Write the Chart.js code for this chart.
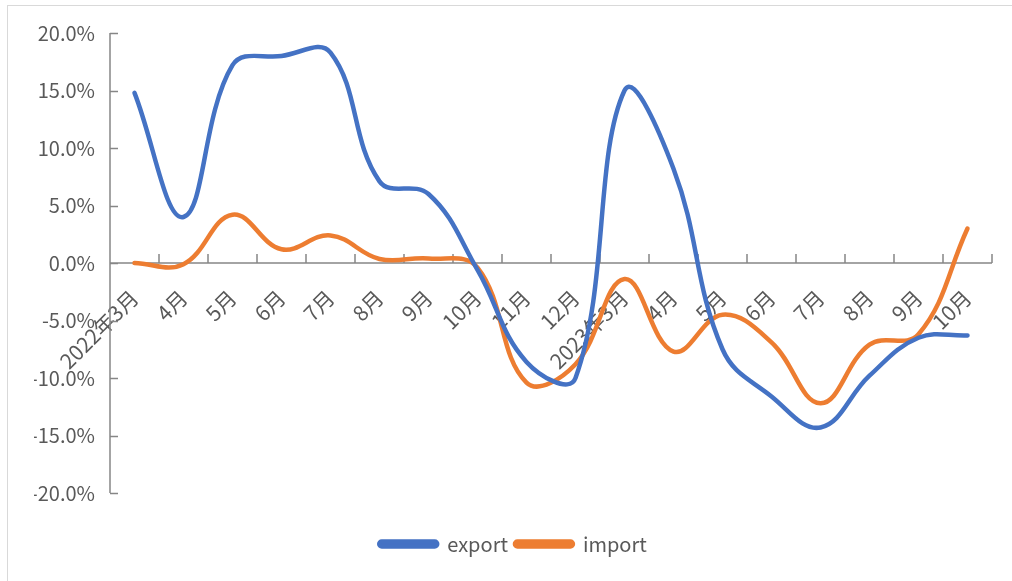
<!DOCTYPE html>
<html>
<head>
<meta charset="utf-8">
<script src="https://cdn.jsdelivr.net/npm/chart.js@4"></script>
<style>
  html, body { margin: 0; padding: 0; background: #fff; }
  #wrap { position: relative; width: 1012px; height: 581px; overflow: hidden; }
  #frame { position: absolute; left: 7px; top: 5px; width: 1100px; height: 700px; border: 1px solid #d9d9d9; }
  canvas { position: absolute; left: 0; top: 0; }
</style>
</head>
<body>
<div id="wrap">
  <div id="frame"></div>
  <canvas id="myChart" width="1012" height="581"></canvas>
</div>
<script>
// 月份
const meses = ['2022年3月','4月','5月','6月','7月','8月','9月','10月','11月','12月',
               '2023年3月','4月','5月','6月','7月','8月','9月','10月'];
// 同比增速 (%)
const exportData = [14.8, 4.0, 17.2, 18.0, 18.3, 7.1, 6.0, -0.6, -8.6, -10.0,
                    15.0, 8.2, -7.5, -11.6, -14.3, -9.8, -6.5, -6.3];
const importData = [0.0, -0.1, 4.2, 1.2, 2.4, 0.35, 0.4, -0.4, -10.4, -8.8,
                    -1.4, -7.7, -4.5, -6.9, -12.2, -7.1, -6.2, 3.0];

const ejeColor = '#868686';
const textoColor = '#595959';
const fuente = '"Noto Sans CJK SC", "Noto Sans", sans-serif';

// marcas de los ejes hacia adentro
const marcas = {
  id: 'marcas',
  beforeDatasetsDraw(chart) {
    const ctx = chart.ctx;
    const x = chart.scales.x, y = chart.scales.y;
    const y0 = y.getPixelForValue(0);
    ctx.save();
    ctx.strokeStyle = ejeColor;
    ctx.lineWidth = 1.5;
    ctx.beginPath();
    // eje y
    ctx.moveTo(x.left, y.top);
    ctx.lineTo(x.left, y.bottom);
    y.ticks.forEach(t => {
      const py = Math.round(y.getPixelForValue(t.value)) + 0.5;
      ctx.moveTo(x.left, py);
      ctx.lineTo(x.left + 8, py);
    });
    // eje x en cero
    ctx.moveTo(x.left, y0);
    ctx.lineTo(x.right, y0);
    for (let i = 1; i <= meses.length; i++) {
      const px = x.getPixelForValue(i - 0.5);
      ctx.moveTo(px, y0);
      ctx.lineTo(px, y0 - 9);
    }
    ctx.stroke();
    ctx.restore();
  }
};

const ctx = document.getElementById('myChart');
const myChart = new Chart(ctx, {
  type: 'line',
  data: {
    labels: meses,
    datasets: [
      {
        label: 'export',
        data: exportData,
        borderColor: '#4472C4',
        backgroundColor: '#4472C4',
        borderWidth: 4.5,
        pointRadius: 0,
        tension: 0.4,
        borderCapStyle: 'round'
      },
      {
        label: 'import',
        data: importData,
        borderColor: '#ED7D31',
        backgroundColor: '#ED7D31',
        borderWidth: 4.5,
        pointRadius: 0,
        tension: 0.4,
        borderCapStyle: 'round'
      }
    ]
  },
  options: {
    responsive: false,
    animation: false,
    layout: { padding: { left: 34, right: 20, top: 33, bottom: 17 } },
    plugins: {
      legend: {
        position: 'bottom',
        labels: {
          boxWidth: 58,
          boxHeight: 5,
          useBorderRadius: true,
          borderRadius: 2.5,
          padding: 7,
          color: textoColor,
          font: { family: fuente, size: 20 }
        }
      },
      tooltip: { enabled: false }
    },
    scales: {
      x: {
        type: 'category',
        offset: true,
        position: { y: 0 },
        grid: { display: false, drawTicks: false, offset: true },
        border: { display: false },
        ticks: {
          autoSkip: false,
          maxRotation: 45,
          minRotation: 45,
          padding: 22,
          color: textoColor,
          font: { family: fuente, size: 21 }
        }
      },
      hueco: {
        axis: 'x',
        type: 'linear',
        position: 'bottom',
        display: true,
        grid: { display: false, drawTicks: false },
        border: { display: false },
        ticks: { display: false },
        afterFit(s) { s.height = 34; }
      },
      y: {
        min: -20,
        max: 20,
        grid: { display: false, drawTicks: false },
        border: { display: false },
        ticks: {
          stepSize: 5,
          padding: 15,
          color: textoColor,
          font: { family: fuente, size: 20 },
          callback: v => v.toFixed(1) + '%'
        },
        afterFit(s) { s.width = 76; }
      }
    }
  },
  plugins: [marcas]
});
</script>
</body>
</html>
